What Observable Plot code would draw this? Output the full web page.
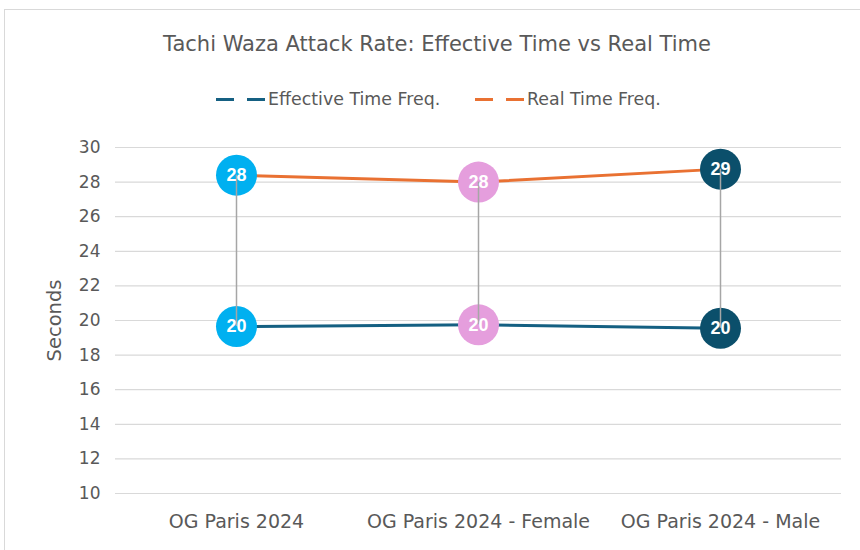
<!DOCTYPE html>
<html>
<head>
<meta charset="utf-8">
<script src="https://cdn.jsdelivr.net/npm/d3@7"></script>
<script src="https://cdn.jsdelivr.net/npm/@observablehq/plot@0.6"></script>
<style>
  html, body { margin: 0; padding: 0; background: #fff; }
  body { width: 860px; height: 550px; overflow: hidden; position: relative; font-family: "DejaVu Sans", sans-serif; }
  #frame { position: absolute; left: 4px; top: 9px; width: 858px; height: 545px; border: 1px solid #D9D9D9; box-sizing: border-box; }
  #title { position: absolute; left: 0; width: 874px; top: 32px; text-align: center; font-size: 21px; color: #595959; }
  #legend { position: absolute; top: 89px; left: 0; width: 860px; height: 20px; font-size: 17.4px; color: #595959; }
  .item { position: absolute; top: 0; display: flex; align-items: center; height: 20px; }
  .sw { width: 49px; height: 3px; margin-right: 3px; }
  #chart { position: absolute; left: 0; top: 120px; }
</style>
</head>
<body>
<div id="frame"></div>
<div id="title">Tachi Waza Attack Rate: Effective Time vs Real Time</div>
<div id="legend"></div>
<div id="chart"></div>
<script>
const categories = ["OG Paris 2024", "OG Paris 2024 - Female", "OG Paris 2024 - Male"];
const effectiveTime = [19.65, 19.75, 19.55];
const realTime = [28.4, 28.0, 28.75];
const seriesNames = ["Effective Time Freq.", "Real Time Freq."];
const seriesColors = ["#156082", "#E97132"];
const dotColors = ["#00B0F0", "#E59EDD", "#0B4F6B"];
const yTicks = [10, 12, 14, 16, 18, 20, 22, 24, 26, 28, 30];

const rows = [];
categories.forEach((c, i) => {
  rows.push({cat: c, series: seriesNames[0], value: effectiveTime[i], color: dotColors[i]});
  rows.push({cat: c, series: seriesNames[1], value: realTime[i], color: dotColors[i]});
});
const pairs = categories.map((c, i) => ({cat: c, lo: effectiveTime[i], hi: realTime[i]}));

// legend
const legend = document.getElementById("legend");
const legendX = [216, 475];
seriesNames.forEach((name, i) => {
  const it = document.createElement("div");
  it.className = "item";
  it.style.left = legendX[i] + "px";
  const sw = document.createElement("div");
  sw.className = "sw";
  sw.style.background = `repeating-linear-gradient(to right, ${seriesColors[i]} 0 18px, transparent 18px 31px)`;
  it.appendChild(sw);
  const t = document.createElement("span");
  t.textContent = name;
  it.appendChild(t);
  legend.appendChild(it);
});

const font = "DejaVu Sans, sans-serif";
const chart = Plot.plot({
  width: 860,
  height: 430,
  marginTop: 27,
  marginBottom: 57,
  marginLeft: 115,
  marginRight: 19,
  style: {fontFamily: font, fontSize: "17px", color: "#595959", background: "transparent"},
  x: {type: "point", domain: categories, padding: 0.5, label: null},
  y: {domain: [10, 30], label: null},
  marks: [
    Plot.ruleY(yTicks, {stroke: "#D9D9D9", strokeWidth: 1.2}),
    Plot.axisY({ticks: yTicks, tickSize: 0, tickPadding: 15, label: null, fill: "#595959", fontSize: 17}),
    Plot.axisX({tickSize: 0, tickPadding: 21, label: null, fill: "#595959", fontSize: 19}),
    Plot.text(["Seconds"], {frameAnchor: "left", textAnchor: "middle", dx: -61, rotate: -90, fontSize: 19.5, fill: "#595959"}),
    Plot.line(rows, {x: "cat", y: "value", z: "series", stroke: "series", strokeWidth: 3}),
    Plot.dot(rows, {x: "cat", y: "value", r: 20.5, fill: "color", stroke: "none"}),
    Plot.ruleX(pairs, {x: "cat", y1: "lo", y2: "hi", stroke: "#A6A6A6", strokeWidth: 1.5}),
    Plot.text(rows, {x: "cat", y: "value", text: d => String(Math.round(d.value)), fill: "white", fontWeight: "bold", fontSize: 18, fontFamily: "Liberation Sans, Arial, sans-serif"})
  ],
  color: {domain: seriesNames, range: seriesColors}
});
document.getElementById("chart").appendChild(chart);
</script>
</body>
</html>
